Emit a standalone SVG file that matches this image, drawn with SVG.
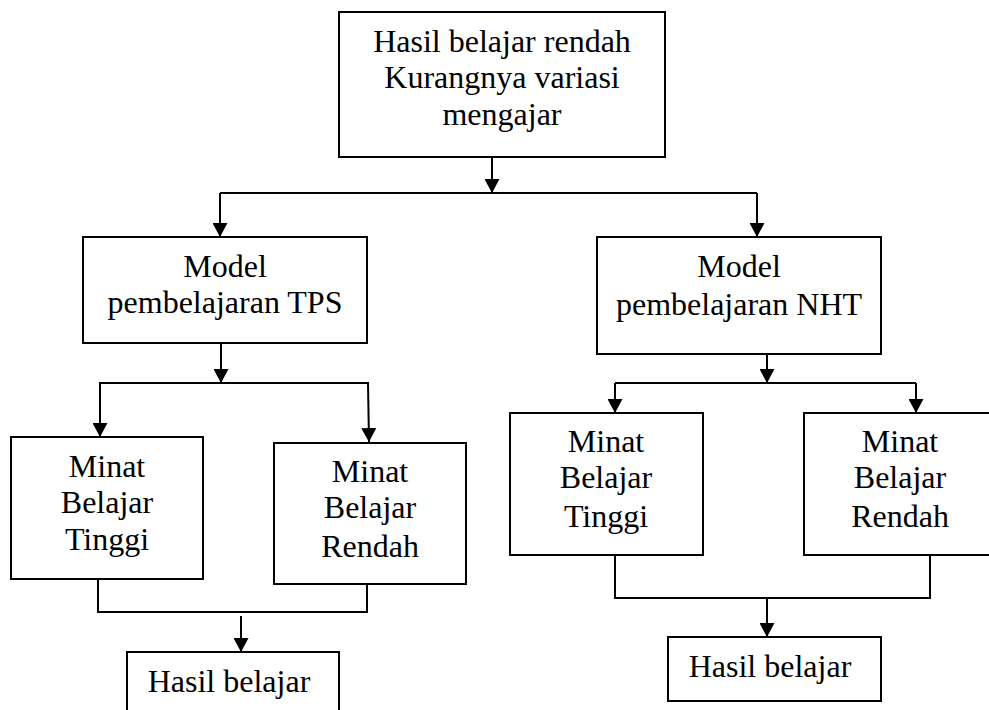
<svg xmlns="http://www.w3.org/2000/svg" width="989" height="710" viewBox="0 0 989 710">
<defs>
<style>
.box{fill:#fff;stroke:#000;stroke-width:2}
.t{font-size:32px;fill:#000;text-anchor:middle}
.c{fill:none;stroke:#000;stroke-width:2}
</style>
<marker id="ah" viewBox="0 0 14 15" refX="14" refY="7.5" markerWidth="14" markerHeight="15" markerUnits="userSpaceOnUse" orient="auto">
<path d="M0,0 L14,7.5 L0,15 z" fill="#000"/>
</marker>
</defs>
<rect width="989" height="710" fill="#fff"/>
<g id="connectors">
<path class="c" d="M492,157 V193" marker-end="url(#ah)"/>
<path class="c" d="M220,193 H757"/>
<path class="c" d="M220,193 V237" marker-end="url(#ah)"/>
<path class="c" d="M757,193 V237" marker-end="url(#ah)"/>
<path class="c" d="M221,343 V383" marker-end="url(#ah)"/>
<path class="c" d="M99,383 H369"/>
<path class="c" d="M100,383 V437" marker-end="url(#ah)"/>
<path class="c" d="M368,383 L369,442" marker-end="url(#ah)"/>
<path class="c" d="M98,579 V612 H367 V578"/>
<path class="c" d="M241,616 V652" marker-end="url(#ah)"/>
<path class="c" d="M767,354 V383" marker-end="url(#ah)"/>
<path class="c" d="M615,383 H916"/>
<path class="c" d="M615,383 V413" marker-end="url(#ah)"/>
<path class="c" d="M916,383 V413" marker-end="url(#ah)"/>
<path class="c" d="M615,555 V598 H930 V555"/>
<path class="c" d="M767,598 V637" marker-end="url(#ah)"/>
</g>
<g font-family="'Liberation Serif', 'Times New Roman', 'DejaVu Serif', serif">
<g id="top">
<rect class="box" x="339" y="12" width="326" height="145"/>
<text class="t" x="502" y="52">Hasil belajar rendah</text>
<text class="t" x="502" y="88">Kurangnya variasi</text>
<text class="t" x="502" y="125">mengajar</text>
</g>
<g id="tps">
<rect class="box" x="83" y="237" width="284" height="106"/>
<text class="t" x="225" y="277">Model</text>
<text class="t" x="225" y="313">pembelajaran TPS</text>
</g>
<g id="nht">
<rect class="box" x="597" y="237" width="284" height="117"/>
<text class="t" x="739" y="277">Model</text>
<text class="t" x="739" y="315">pembelajaran NHT</text>
</g>
<g id="tps-tinggi">
<rect class="box" x="11" y="437" width="192" height="142"/>
<text class="t" x="107" y="477">Minat</text>
<text class="t" x="107" y="513">Belajar</text>
<text class="t" x="107" y="550">Tinggi</text>
</g>
<g id="tps-rendah">
<rect class="box" x="274" y="443" width="192" height="141"/>
<text class="t" x="370" y="482">Minat</text>
<text class="t" x="370" y="518">Belajar</text>
<text class="t" x="370" y="557">Rendah</text>
</g>
<g id="tps-hasil">
<rect class="box" x="127" y="652" width="212" height="70"/>
<text class="t" x="229" y="692">Hasil belajar</text>
</g>
<g id="nht-tinggi">
<rect class="box" x="510" y="413" width="193" height="142"/>
<text class="t" x="606" y="452">Minat</text>
<text class="t" x="606" y="488">Belajar</text>
<text class="t" x="606" y="527">Tinggi</text>
</g>
<g id="nht-rendah">
<rect class="box" x="804" y="413" width="195" height="142"/>
<text class="t" x="900" y="452">Minat</text>
<text class="t" x="900" y="488">Belajar</text>
<text class="t" x="900" y="527">Rendah</text>
</g>
<g id="nht-hasil">
<rect class="box" x="668" y="637" width="213" height="64"/>
<text class="t" x="770" y="677">Hasil belajar</text>
</g>
</g>
</svg>
